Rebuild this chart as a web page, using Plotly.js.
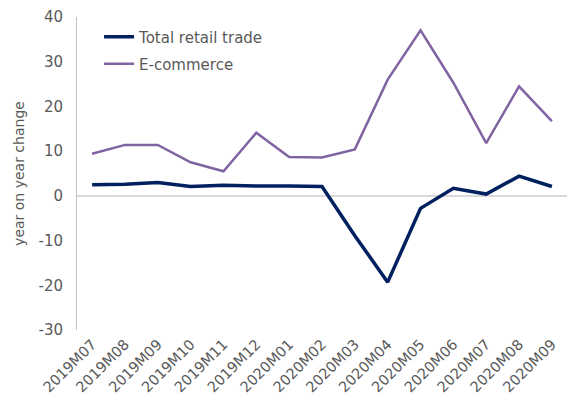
<!DOCTYPE html>
<html>
<head>
<meta charset="utf-8">
<script src="https://cdn.plot.ly/plotly-3.0.1.min.js"></script>
<style>html,body{margin:0;padding:0;background:#fff}</style>
</head>
<body>
<div id="chart" style="width:575px;height:408px"></div>
<script>
const categories = ["2019M07","2019M08","2019M09","2019M10","2019M11","2019M12","2020M01","2020M02","2020M03","2020M04","2020M05","2020M06","2020M07","2020M08","2020M09"];
const totalRetail = [2.5, 2.6, 3.0, 2.1, 2.4, 2.2, 2.2, 2.1, -8.9, -19.3, -2.8, 1.7, 0.4, 4.4, 2.1];
const eCommerce = [9.4, 11.4, 11.4, 7.5, 5.5, 14.1, 8.7, 8.6, 10.4, 26.0, 37.0, 25.3, 11.8, 24.5, 16.7];
const yTicks = [-30, -20, -10, 0, 10, 20, 30, 40];
const yTickLabels = ["-30", "-20", "-10", "0", "10", "20", "30", "40"];

const font = "'DejaVu Sans', sans-serif";
const data = [
  {x: categories, y: totalRetail, type: "scatter", mode: "lines", name: "Total retail trade",
   line: {color: "#002060", width: 3.5}, legend: "legend"},
  {x: categories, y: eCommerce, type: "scatter", mode: "lines", name: "E-commerce",
   line: {color: "#8064A2", width: 2.5}, legend: "legend2"}
];
const legendStyle = {font: {family: font, size: 15, color: "#595959"}, bgcolor: "rgba(0,0,0,0)",
  xanchor: "left", yanchor: "middle", itemwidth: 30};
const layout = {
  width: 575, height: 408,
  margin: {l: 77, r: 8, t: 17, b: 78},
  paper_bgcolor: "#fff", plot_bgcolor: "#fff",
  font: {family: font, color: "#595959"},
  showlegend: true,
  legend: Object.assign({x: 0.045, y: (330 - 37) / 313}, legendStyle),
  legend2: Object.assign({x: 0.045, y: (330 - 64) / 313}, legendStyle),
  xaxis: {type: "category", range: [-0.46, 14.46], tickangle: -45, showgrid: false,
    showline: false, zeroline: false, ticks: "", ticklabelstandoff: 2,
    tickfont: {family: font, size: 14.5, color: "#595959"}},
  yaxis: {range: [-30, 40], tickvals: yTicks, ticktext: yTickLabels, showgrid: false, showline: true,
    linecolor: "#bfbfbf", linewidth: 1, zeroline: true, zerolinecolor: "#d9d9d9", zerolinewidth: 1.5,
    ticks: "", ticklabelstandoff: 10,
    tickfont: {family: font, size: 15, color: "#595959"},
    title: {text: "year on year change", font: {family: font, size: 14, color: "#595959"}, standoff: 10}}
};
Plotly.newPlot("chart", data, layout, {displayModeBar: false, staticPlot: true});
</script>
</body>
</html>
